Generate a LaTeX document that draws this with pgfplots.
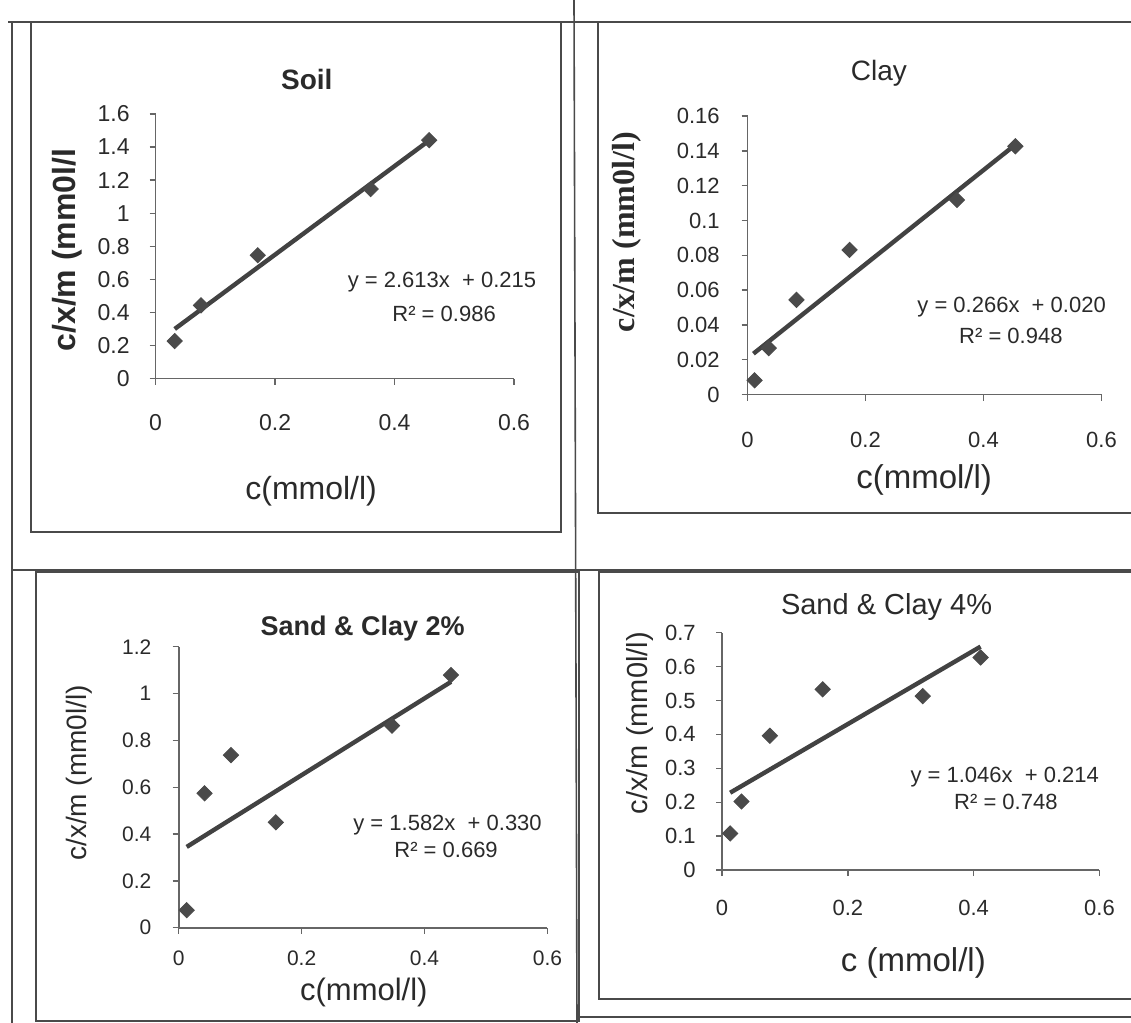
\documentclass[border=0pt]{standalone}
\usepackage{pgfplots}
\pgfplotsset{compat=1.18}
\usepackage{fontspec}
\setmainfont{Liberation Sans}
\newfontfamily\timesfont{Liberation Serif}
\definecolor{ink}{HTML}{2A2A2A}
\definecolor{framec}{HTML}{4A4A4A}
\definecolor{mk}{HTML}{4A4A4A}
\definecolor{ln}{HTML}{424242}
\pgfplotsset{
  every axis title shift=0pt,
  panel/.style={
    scale only axis, clip=false,
    xmin=0, xmax=0.6, xtick={0,0.2,0.4,0.6},
    axis x line*=bottom, axis y line*=left,
    axis line style={-, black!60, line width=0.8pt},
    tick align=outside, major tick length=3pt,
    tick style={black!60, line width=0.7pt},
    scaled ticks=false,
    /pgf/number format/fixed,
    /pgf/number format/precision=2,
    /pgf/number format/assume math mode=true,
    ticklabel style={text=ink, inner sep=0pt},
    title style={anchor=center, text=ink, inner sep=0pt},
    xlabel style={anchor=center, text=ink, inner sep=0pt},
    ylabel style={anchor=center, text=ink, inner sep=0pt},
  },
  pts/.style={only marks, mark=square*, mark size=2.7pt,
    mark options={rotate=45, fill=mk, draw=mk}},
  trend/.style={no marks, ln, line width=2.2pt},
}
\begin{document}
\begin{tikzpicture}
\useasboundingbox (0,0) rectangle (565.5pt,-511.5pt);
% table frame
\begin{scope}[framec, line width=0.8pt]
\draw (6pt,-11pt) -- (6pt,-511.5pt);
\draw (287pt,0pt) -- (288.5pt,-511.5pt);
\draw (6pt,-285pt) -- (565.5pt,-285pt);
\draw (288pt,-508.5pt) -- (565.5pt,-508.5pt);
\end{scope}
\begin{scope}[framec, line width=1.3pt]
\draw (4pt,-11pt) -- (565.5pt,-11pt);
\draw (15.5pt,-11pt) rectangle (280.5pt,-266pt);
\draw (299pt,-11pt) rectangle (570pt,-256.5pt);
\draw (18pt,-286pt) rectangle (289.5pt,-510.5pt);
\draw (299.5pt,-286pt) rectangle (570pt,-499.5pt);
\end{scope}

% Panel 1: Soil
\begin{axis}[panel, at={(77.8pt,-189.3pt)}, anchor=south west,
  width=179.2pt, height=132.3pt,
  ymin=0, ymax=1.6, ytick={0,0.2,0.4,0.6,0.8,1,1.2,1.4,1.6},
  ticklabel style={font=\fontsize{11.5}{13}\selectfont},
  xticklabel style={anchor=center, yshift=-19.2pt},
  yticklabel style={anchor=east, xshift=-9.8pt},
  title={Soil},
  title style={at={(axis description cs:0.422,1.132)}, font=\bfseries\fontsize{14}{16}\selectfont},
  xlabel={c(mmol/l)},
  xlabel style={at={(axis description cs:0.434,-0.425)}, font=\fontsize{16}{18}\selectfont},
  ylabel={c/x/m (mm0l/l},
  ylabel style={at={(axis description cs:-0.247,0.486)}, font=\bfseries\fontsize{16}{18}\selectfont},
]
\addplot[pts] coordinates {(0.032,0.227) (0.076,0.443) (0.171,0.746) (0.360,1.146) (0.458,1.442)};
\addplot[trend] coordinates {(0.032,0.30) (0.458,1.44)};
\node[text=ink, font=\fontsize{11}{13}\selectfont] at (rel axis cs:0.799,0.365) {y = 2.613x\ \ + 0.215};
\node[text=ink, font=\fontsize{11}{13}\selectfont] at (rel axis cs:0.805,0.244) {R² = 0.986};
\end{axis}

% Panel 2: Clay
\begin{axis}[panel, at={(373.75pt,-197.3pt)}, anchor=south west,
  width=177pt, height=139.3pt,
  ymin=0, ymax=0.16, ytick={0,0.02,0.04,0.06,0.08,0.1,0.12,0.14,0.16},
  ticklabel style={font=\fontsize{11}{13}\selectfont},
  xticklabel style={anchor=center, yshift=-19.7pt},
  yticklabel style={anchor=east, xshift=-10.7pt},
  title={Clay},
  title style={at={(axis description cs:0.371,1.154)}, font=\fontsize{14}{16}\selectfont},
  xlabel={c(mmol/l)},
  xlabel style={at={(axis description cs:0.499,-0.307)}, font=\fontsize{16.5}{18}\selectfont},
  ylabel={c/x/m (mm0l/l)},
  ylabel style={at={(axis description cs:-0.341,0.583)}, font=\timesfont\bfseries\fontsize{16}{18}\selectfont},
]
\addplot[pts] coordinates {(0.012,0.0082) (0.036,0.0267) (0.083,0.0544) (0.173,0.0831) (0.355,0.1118) (0.454,0.1426)};
\addplot[trend] coordinates {(0.010,0.0235) (0.452,0.143)};
\node[text=ink, font=\fontsize{11}{13}\selectfont] at (rel axis cs:0.746,0.314) {y = 0.266x\ \ + 0.020};
\node[text=ink, font=\fontsize{11}{13}\selectfont] at (rel axis cs:0.744,0.210) {R² = 0.948};
\end{axis}

% Panel 3: Sand & Clay 2%
\begin{axis}[panel, at={(89.35pt,-463.85pt)}, anchor=south west,
  width=184.4pt, height=140.5pt,
  ymin=0, ymax=1.2, ytick={0,0.2,0.4,0.6,0.8,1,1.2},
  ticklabel style={font=\fontsize{10.5}{12}\selectfont},
  xticklabel style={anchor=center, yshift=-12.2pt},
  yticklabel style={anchor=east, xshift=-10.5pt},
  title={Sand \& Clay 2\%},
  title style={at={(axis description cs:0.499,1.064)}, font=\bfseries\fontsize{13.5}{15}\selectfont},
  xlabel={c(mmol/l)},
  xlabel style={at={(axis description cs:0.502,-0.232)}, font=\fontsize{15.5}{17}\selectfont},
  ylabel={c/x/m (mm0l/l)},
  ylabel style={at={(axis description cs:-0.269,0.551)}, font=\fontsize{14}{16}\selectfont},
]
\addplot[pts] coordinates {(0.013,0.075) (0.042,0.574) (0.085,0.737) (0.158,0.450) (0.347,0.863) (0.443,1.079)};
\addplot[trend] coordinates {(0.013,0.345) (0.443,1.05)};
\node[text=ink, font=\fontsize{11}{13}\selectfont] at (rel axis cs:0.729,0.365) {y = 1.582x\ \ + 0.330};
\node[text=ink, font=\fontsize{11}{13}\selectfont] at (rel axis cs:0.725,0.277) {R² = 0.669};
\end{axis}

% Panel 4: Sand & Clay 4%
\begin{axis}[panel, at={(361pt,-435pt)}, anchor=south west,
  width=188.75pt, height=118.65pt,
  ymin=0, ymax=0.7, ytick={0,0.1,0.2,0.3,0.4,0.5,0.6,0.7},
  ticklabel style={font=\fontsize{11}{13}\selectfont},
  xticklabel style={anchor=center, yshift=-16pt},
  yticklabel style={anchor=east, xshift=-10pt},
  title={Sand \& Clay 4\%},
  title style={at={(axis description cs:0.436,1.108)}, font=\fontsize{14.5}{16}\selectfont},
  xlabel={c (mmol/l)},
  xlabel style={at={(axis description cs:0.507,-0.392)}, font=\fontsize{16.5}{18}\selectfont},
  ylabel={c/x/m (mm0l/l)},
  ylabel style={at={(axis description cs:-0.217,0.619)}, font=\fontsize{14.5}{16}\selectfont},
]
\addplot[pts] coordinates {(0.013,0.108) (0.031,0.202) (0.076,0.396) (0.160,0.533) (0.319,0.513) (0.411,0.627)};
\addplot[trend] coordinates {(0.013,0.228) (0.411,0.659)};
\node[text=ink, font=\fontsize{11}{13}\selectfont] at (rel axis cs:0.749,0.392) {y = 1.046x\ \ + 0.214};
\node[text=ink, font=\fontsize{11}{13}\selectfont] at (rel axis cs:0.752,0.287) {R² = 0.748};
\end{axis}
\end{tikzpicture}
\end{document}
